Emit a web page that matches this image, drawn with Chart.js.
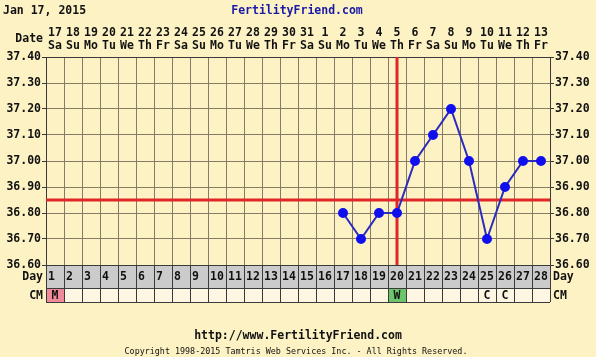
<!DOCTYPE html>
<html>
<head>
<meta charset="utf-8">
<script src="https://cdn.jsdelivr.net/npm/chart.js@4.4.1/dist/chart.umd.min.js"></script>
<style>
  html, body { margin: 0; padding: 0; background: #fdf2c4; }
  #wrap { width: 596px; height: 357px; }
</style>
</head>
<body>
<div id="wrap"><canvas id="bbtChart" width="596" height="357"></canvas></div>
<script>
// chart data
const title = 'Jan 17, 2015';
const dates = ['17','18','19','20','21','22','23','24','25','26','27','28','29','30','31',
  '1','2','3','4','5','6','7','8','9','10','11','12','13'];
const weekdays = ['Sa','Su','Mo','Tu','We','Th','Fr','Sa','Su','Mo','Tu','We','Th','Fr','Sa',
  'Su','Mo','Tu','We','Th','Fr','Sa','Su','Mo','Tu','We','Th','Fr'];
const cycleDays = [1,2,3,4,5,6,7,8,9,10,11,12,13,14,15,16,17,18,19,20,21,22,23,24,25,26,27,28];
const temps = [null,null,null,null,null,null,null,null,null,null,null,null,null,null,null,null,
  36.80,36.70,36.80,36.80,37.00,37.10,37.20,37.00,36.70,36.90,37.00,37.00];
const cmCodes = ['M','','','','','','','','','','','','','','','','','','','W','','','','','C','C','',''];
const coverline = 36.85;
const ovulationDay = 20;
const yMin = 36.60, yMax = 37.40;

const FONT = '"DejaVu Sans Mono", "Liberation Mono", monospace';
const cmFill = { M: '#f08a9a', W: '#6cc46c' };

const isMajor = v => Math.round(v * 100) % 10 === 0;

const chartDecor = {
  id: 'chartDecor',
  beforeDraw(chart) {
    const c = chart.ctx;
    c.save();
    c.fillStyle = '#fdf2c4';
    c.fillRect(0, 0, chart.width, chart.height);
    c.restore();
  },
  beforeDatasetsDraw(chart) {
    const c = chart.ctx, a = chart.chartArea;
    const xs = chart.scales.x, ys = chart.scales.y;
    c.save();
    c.strokeStyle = '#e02626';
    c.lineWidth = 3;
    const cy = ys.getPixelForValue(coverline);
    c.beginPath(); c.moveTo(a.left, cy); c.lineTo(a.right, cy); c.stroke();
    const ox = xs.getPixelForValue(ovulationDay - 1);
    c.beginPath(); c.moveTo(ox, a.top); c.lineTo(ox, a.bottom); c.stroke();
    c.restore();
  },
  afterDraw(chart) {
    const c = chart.ctx, a = chart.chartArea;
    const xs = chart.scales.x;
    const w = xs.width / dates.length;
    const dayTop = a.bottom, dayH = 23, cmTop = dayTop + dayH, cmH = 14;
    c.save();
    // Day row and CM row
    cycleDays.forEach((d, i) => {
      const x = xs.getPixelForValue(i) - w / 2;
      c.fillStyle = '#cbcbcb';
      c.fillRect(x, dayTop, w, dayH);
      c.fillStyle = cmFill[cmCodes[i]] || '#fdf6e2';
      c.fillRect(x, cmTop, w, cmH);
    });
    c.strokeStyle = '#3a3a3a';
    c.lineWidth = 1;
    cycleDays.forEach((d, i) => {
      const x = Math.round(xs.getPixelForValue(i) - w / 2) + 0.5;
      c.beginPath(); c.moveTo(x, dayTop); c.lineTo(x, cmTop + cmH); c.stroke();
    });
    const xr = Math.round(a.right) + 0.5;
    c.beginPath(); c.moveTo(xr, dayTop); c.lineTo(xr, cmTop + cmH); c.stroke();
    [dayTop, cmTop, cmTop + cmH].forEach(y => {
      const yy = Math.round(y) + 0.5;
      c.beginPath(); c.moveTo(a.left, yy); c.lineTo(a.right, yy); c.stroke();
    });
    c.fillStyle = '#111';
    c.font = 'bold 11.5px ' + FONT;
    c.textBaseline = 'middle';
    cycleDays.forEach((d, i) => {
      const x = xs.getPixelForValue(i) - w / 2;
      c.textAlign = 'left';
      c.fillText(String(d), x + 2, dayTop + dayH / 2 + 1);
      if (cmCodes[i]) {
        c.textAlign = 'center';
        c.fillText(cmCodes[i], x + w / 2, cmTop + cmH / 2 + 1);
      }
    });
    // row labels
    c.textAlign = 'right';
    c.fillText('Date', a.left - 3, 39);
    c.fillText('Day', a.left - 3, dayTop + dayH / 2 + 1);
    c.fillText('CM', a.left - 3, cmTop + cmH / 2 + 1);
    c.textAlign = 'left';
    c.fillText('Day', a.right + 3, dayTop + dayH / 2 + 1);
    c.fillText('CM', a.right + 3, cmTop + cmH / 2 + 1);
    // header and footer
    c.fillText(title, 3, 11);
    c.fillStyle = '#1a1aa6';
    c.textAlign = 'center';
    c.fillText('FertilityFriend.com', 297, 11);
    c.fillStyle = '#111';
    c.fillText('http://www.FertilityFriend.com', 298, 336);
    c.font = '8.4px ' + FONT;
    c.fillText('Copyright 1998-2015 Tamtris Web Services Inc. - All Rights Reserved.', 296, 352);
    c.restore();
  }
};

const yTicks = {
  stepSize: 0.05,
  color: '#111',
  font: { family: FONT, size: 11.5, weight: 'bold' },
  padding: 1,
  callback: v => isMajor(v) ? v.toFixed(2) : ''
};

new Chart(document.getElementById('bbtChart'), {
  type: 'line',
  data: {
    labels: dates.map((d, i) => [d, weekdays[i]]),
    datasets: [{
      data: temps,
      borderColor: '#2b2bbf',
      borderWidth: 2,
      pointBackgroundColor: '#1010ee',
      pointBorderColor: '#1010ee',
      pointRadius: 4,
      spanGaps: false,
      tension: 0
    }]
  },
  options: {
    responsive: false,
    animation: false,
    layout: { padding: { top: 0, bottom: 92, left: 0, right: 0 } },
    plugins: { legend: { display: false }, tooltip: { enabled: false } },
    scales: {
      x: {
        position: 'top',
        offset: true,
        grid: { offset: true, color: '#857c68', drawTicks: false },
        border: { color: '#3a3a3a' },
        ticks: {
          color: '#111',
          font: { family: FONT, size: 11.5, weight: 'bold', lineHeight: 1.15 },
          padding: 4,
          maxRotation: 0,
          autoSkip: false
        },
        afterFit: s => { s.height = 57; }
      },
      y: {
        position: 'left',
        min: yMin, max: yMax,
        grid: {
          color: '#857c68',
          tickLength: 4,
          tickColor: ctx => ctx.tick && isMajor(ctx.tick.value) ? '#3a3a3a' : 'rgba(0,0,0,0)'
        },
        border: { color: '#3a3a3a' },
        ticks: yTicks,
        afterFit: s => { s.width = 46; }
      },
      y2: {
        position: 'right',
        min: yMin, max: yMax,
        grid: {
          drawOnChartArea: false,
          tickLength: 4,
          tickColor: ctx => ctx.tick && isMajor(ctx.tick.value) ? '#3a3a3a' : 'rgba(0,0,0,0)'
        },
        border: { color: '#3a3a3a' },
        ticks: yTicks,
        afterFit: s => { s.width = 46; }
      }
    }
  },
  plugins: [chartDecor]
});
</script>
</body>
</html>
